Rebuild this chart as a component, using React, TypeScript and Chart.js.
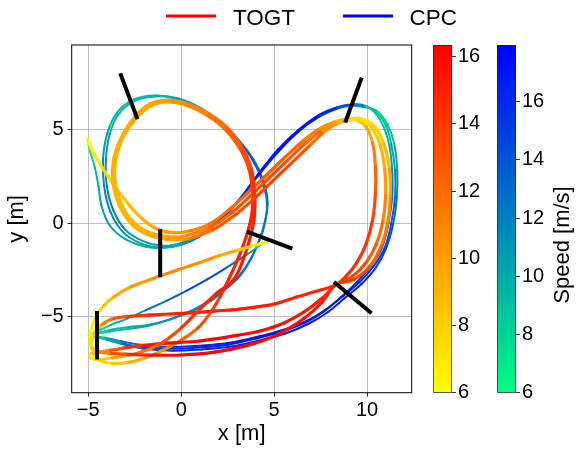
import React, { useEffect, useRef } from 'react';
import { Chart, registerables } from 'chart.js';

Chart.register(...registerables);

type P = [number, number, number]; // x [m], y [m], speed [m/s]

// ---------- axes / colour ranges ----------
const xRange = [-5.89, 12.4];
const yRange = [-9.07, 9.55];
const axisStep = 5;
const togtRange = [6, 16.35];
const cpcRange = [6, 17.95];
const barStep = 2;
const legendLabels = ['TOGT', 'CPC'];
const legendColors = ['#ff0000', '#0000ff'];
const axisTitles = ['x [m]', 'y [m]', 'Speed [m/s]'];

// ---------- gates ----------
const gate1: number[][] = [[-3.28, 8.03], [-2.35, 5.58]];
const gate2: number[][] = [[9.71, 7.8], [8.82, 5.39]];
const gate3: number[][] = [[3.53, -0.45], [5.98, -1.36]];
const gate4: number[][] = [[8.22, -3.14], [10.24, -4.82]];
const gate5: number[][] = [[-1.13, -0.32], [-1.13, -2.89]];
const gate6: number[][] = [[-4.53, -4.7], [-4.53, -7.29]];

// ---------- TOGT trajectory pieces ----------
const togtStart: P[] = [[-5.05, 4.5, 6.0], [-4.7, 3.75, 6.6], [-4.2, 2.9, 7.3], [-3.55, 1.95, 8.0], [-2.85, 1.05, 8.6], [-2.1, 0.25, 9.1], [-1.3, -0.3, 9.6], [-0.4, -0.5, 10.2]];
const togtDiag1: P[] = [[0.5, -0.4, 10.8], [1.5, -0.05, 11.5], [2.6, 0.75, 12.1], [3.6, 1.65, 12.5], [4.6, 2.6, 12.7], [5.6, 3.55, 12.6], [6.6, 4.45, 12.0], [7.5, 5.1, 11.0], [8.3, 5.45, 9.6], [8.9, 5.6, 8.3]];
const togtDiag2: P[] = [[0.3, -0.65, 10.5], [1.5, -0.25, 11.8], [2.7, 0.55, 12.8], [3.7, 1.45, 13.3], [4.7, 2.4, 13.5], [5.7, 3.35, 13.3], [6.7, 4.3, 12.5], [7.6, 5.0, 11.2], [8.4, 5.42, 9.6], [8.95, 5.55, 8.2]];
const togtDiag3: P[] = [[0.5, -0.8, 11.0], [1.7, -0.35, 12.3], [2.9, 0.45, 13.2], [3.9, 1.3, 13.6], [4.9, 2.25, 13.8], [5.9, 3.2, 13.5], [6.9, 4.15, 12.7], [7.7, 4.9, 11.4], [8.45, 5.38, 9.8], [9.0, 5.52, 8.2]];
const togtRight1: P[] = [[9.45, 5.55, 8.0], [9.95, 5.15, 9.0], [10.3, 4.3, 10.5], [10.45, 3.0, 12.0], [10.45, 1.6, 13.0], [10.3, 0.2, 13.7], [9.95, -1.1, 14.2], [9.45, -2.1, 14.5], [8.9, -2.8, 14.7], [8.3, -3.3, 14.8]];
const togtRight2: P[] = [[9.55, 5.6, 7.3], [10.2, 5.2, 7.7], [10.7, 4.2, 8.6], [10.95, 2.9, 9.6], [11.0, 1.5, 10.5], [10.85, 0.1, 11.4], [10.5, -1.1, 12.3], [9.95, -2.1, 13.1], [9.2, -2.85, 13.8], [8.3, -3.3, 14.3]];
const togtRight3: P[] = [[9.6, 5.62, 7.0], [10.35, 5.25, 7.4], [10.9, 4.25, 8.3], [11.2, 2.9, 9.3], [11.25, 1.5, 10.2], [11.1, 0.0, 11.1], [10.75, -1.25, 12.0], [10.15, -2.3, 12.9], [9.3, -3.0, 13.7], [8.3, -3.3, 14.2]];
const togtBottomUpper: P[] = [[7.4, -3.6, 14.9], [6.2, -3.95, 15.0], [5.1, -4.3, 15.1], [3.5, -4.55, 15.3], [1.8, -4.7, 15.4], [0.0, -4.82, 15.3], [-1.8, -4.92, 14.8], [-3.0, -5.0, 13.8], [-3.8, -5.15, 12.3], [-4.35, -5.5, 10.3], [-4.7, -5.95, 8.3], [-4.82, -6.5, 7.2], [-4.72, -7.0, 6.8]];
const togtBottomLower1: P[] = [[7.6, -4.0, 15.2], [6.6, -4.75, 15.6], [5.5, -5.35, 15.9], [4.3, -5.75, 16.1], [3.0, -6.0, 16.2], [1.0, -6.3, 16.2], [-0.8, -6.42, 15.9], [-2.2, -6.55, 15.2], [-3.2, -6.7, 14.0], [-3.95, -6.82, 12.0], [-4.5, -6.92, 9.6], [-4.88, -7.02, 7.2], [-4.85, -7.22, 6.6]];
const togtBottomLower2: P[] = [[7.6, -4.2, 15.4], [6.6, -5.1, 15.8], [5.2, -5.95, 16.1], [3.5, -6.55, 16.3], [1.8, -6.9, 16.3], [0.0, -7.05, 16.2], [-1.8, -7.05, 15.6], [-3.0, -7.0, 14.2], [-3.9, -6.95, 12.3], [-4.5, -6.85, 9.8], [-4.85, -6.55, 7.5], [-4.9, -6.0, 6.4], [-4.78, -5.5, 6.3]];
const togtArcB: P[] = [[-4.35, -7.35, 7.2], [-3.7, -7.5, 8.0], [-2.8, -7.45, 8.8], [-1.9, -7.2, 9.6], [-1.0, -6.8, 10.6], [0.0, -6.25, 11.8], [0.9, -5.6, 12.9], [1.6, -4.75, 13.7], [2.1, -3.9, 14.3], [2.55, -3.0, 14.8], [3.1, -1.8, 15.1], [3.55, -0.55, 15.2]];
const togtArcA: P[] = [[-4.45, -7.3, 7.4], [-3.7, -7.2, 9.0], [-2.5, -7.0, 11.0], [-1.2, -6.5, 12.8], [0.0, -5.6, 14.0], [1.0, -4.6, 14.8], [1.9, -3.75, 15.2], [2.8, -3.05, 15.4], [3.35, -1.9, 15.5], [3.75, -0.6, 15.4]];
const togtLoop1: P[] = [[3.8, 0.5, 15.0], [3.85, 1.5, 14.6], [3.65, 2.9, 13.8], [3.1, 4.1, 12.9], [2.3, 5.1, 12.0], [1.3, 5.85, 11.2], [0.2, 6.35, 10.5], [-0.7, 6.5, 10.0], [-1.6, 6.3, 9.7], [-2.4, 5.65, 9.5], [-3.05, 4.75, 9.3], [-3.5, 3.5, 9.1], [-3.55, 2.2, 9.0], [-3.2, 1.0, 8.9], [-2.6, 0.1, 8.9], [-1.8, -0.45, 9.1], [-0.8, -0.7, 9.6], [0.0, -0.72, 10.0]];
const togtLoop2: P[] = [[3.95, 0.5, 15.2], [3.95, 1.6, 14.8], [3.75, 3.0, 14.0], [3.2, 4.2, 13.0], [2.4, 5.2, 12.1], [1.35, 5.95, 11.3], [0.2, 6.45, 10.6], [-0.75, 6.6, 10.1], [-1.7, 6.38, 9.8], [-2.5, 5.7, 9.6], [-3.15, 4.75, 9.4], [-3.62, 3.5, 9.2], [-3.67, 2.2, 9.1], [-3.3, 0.9, 9.0], [-2.65, -0.05, 9.0], [-1.8, -0.6, 9.3], [-0.8, -0.85, 9.8], [0.2, -0.85, 10.4]];
const togtFinal: P[] = [[-4.55, -4.95, 6.8], [-4.2, -4.45, 7.8], [-3.64, -3.95, 8.8], [-2.7, -3.4, 9.8], [-1.5, -2.95, 10.5], [-0.2, -2.5, 10.8], [1.0, -2.1, 10.6], [2.0, -1.75, 10.0], [3.0, -1.45, 8.9], [3.8, -1.22, 7.6], [4.6, -1.0, 6.2]];

// ---------- CPC trajectory pieces ----------
const cpcStart: P[] = [[-5.05, 4.5, 6.0], [-4.9, 3.85, 7.2], [-4.65, 3.0, 8.6], [-4.45, 2.0, 9.8], [-4.3, 1.0, 10.6], [-3.85, -0.1, 10.8], [-3.0, -0.85, 10.2], [-1.9, -1.25, 9.6], [-0.8, -1.3, 9.8], [0.3, -1.05, 11.0], [1.2, -0.55, 12.8]];
const cpcDiag1: P[] = [[2.1, 0.2, 14.5], [3.1, 1.25, 15.8], [4.1, 2.55, 16.6], [5.2, 3.85, 17.2], [6.3, 4.95, 17.3], [7.4, 5.75, 16.8], [8.4, 6.2, 15.3], [9.2, 6.35, 13.0], [9.9, 6.25, 10.0]];
const cpcDiag2: P[] = [[2.2, 0.25, 14.6], [3.2, 1.35, 15.9], [4.15, 2.65, 16.7], [5.2, 3.95, 17.3], [6.3, 5.0, 17.4], [7.4, 5.8, 16.9], [8.4, 6.22, 15.4], [9.2, 6.38, 13.0], [9.9, 6.3, 10.2]];
const cpcDiag3: P[] = [[2.1, 0.15, 14.4], [3.1, 1.2, 15.7], [4.1, 2.5, 16.5], [5.2, 3.8, 17.1], [6.3, 4.9, 17.2], [7.4, 5.7, 16.7], [8.4, 6.15, 15.2], [9.2, 6.3, 12.8], [9.9, 6.22, 9.8]];
const cpcRight1: P[] = [[10.5, 5.95, 8.2], [11.0, 5.25, 8.6], [11.3, 4.25, 9.6], [11.5, 2.85, 11.0], [11.5, 1.4, 12.4], [11.3, 0.0, 13.8], [10.95, -1.3, 14.9], [10.35, -2.3, 15.6], [9.6, -3.15, 16.1], [8.7, -3.9, 16.4], [7.8, -4.6, 16.6], [6.8, -5.2, 16.7], [5.5, -5.7, 16.8], [4.2, -6.05, 16.8], [2.6, -6.4, 16.7], [1.0, -6.55, 16.3], [-0.6, -6.62, 15.6], [-2.2, -6.5, 14.0], [-3.3, -6.3, 11.8], [-4.1, -6.12, 9.5], [-4.6, -6.05, 7.6], [-4.95, -6.0, 6.2]];
const cpcRight2: P[] = [[10.45, 5.9, 8.4], [10.9, 5.15, 8.8], [11.2, 4.15, 9.8], [11.35, 2.8, 11.2], [11.35, 1.4, 12.6], [11.15, 0.0, 14.0], [10.8, -1.3, 15.0], [10.2, -2.3, 15.7], [9.45, -3.15, 16.2], [8.6, -3.95, 16.5], [7.7, -4.7, 16.7], [6.7, -5.3, 16.8], [5.4, -5.8, 16.9], [4.1, -6.15, 16.9], [2.5, -6.5, 16.8], [0.9, -6.65, 16.4], [-0.7, -6.72, 15.7], [-2.3, -6.6, 14.1], [-3.35, -6.38, 11.9], [-4.1, -6.18, 9.6], [-4.6, -6.08, 7.6], [-4.95, -6.0, 6.2]];
const cpcRight3: P[] = [[10.55, 6.0, 8.0], [11.1, 5.3, 8.4], [11.45, 4.3, 9.4], [11.62, 2.85, 10.8], [11.6, 1.4, 12.2], [11.4, -0.05, 13.6], [11.0, -1.4, 14.7], [10.45, -2.4, 15.5], [9.7, -3.25, 16.0], [8.8, -4.0, 16.3], [7.9, -4.75, 16.5], [6.9, -5.35, 16.6], [5.6, -5.9, 16.7], [4.3, -6.25, 16.7], [2.7, -6.6, 16.6], [1.1, -6.75, 16.2], [-0.5, -6.82, 15.5], [-2.1, -6.7, 13.9], [-3.25, -6.45, 11.7], [-4.05, -6.22, 9.4], [-4.55, -6.1, 7.5], [-4.95, -6.0, 6.2]];
const cpcUp1: P[] = [[-4.6, -5.9, 7.2], [-3.9, -5.72, 8.4], [-2.8, -5.55, 9.6], [-1.8, -5.45, 10.4], [-0.6, -5.15, 11.1], [0.6, -4.7, 11.6], [1.6, -4.15, 12.0], [2.6, -3.35, 12.2], [3.4, -2.45, 12.3], [4.0, -1.4, 12.3], [4.4, -0.4, 12.2]];
const cpcUp2: P[] = [[-4.6, -5.92, 7.2], [-3.9, -5.8, 8.3], [-2.8, -5.65, 9.5], [-1.8, -5.5, 10.3], [-0.5, -5.1, 11.0], [1.0, -4.45, 11.6], [2.0, -3.75, 12.0], [3.0, -3.0, 12.2], [3.7, -2.0, 12.3], [4.2, -0.9, 12.2], [4.5, 0.1, 12.1]];
const cpcLoop1: P[] = [[4.6, 0.6, 12.0], [4.55, 1.6, 12.8], [4.1, 2.9, 13.5], [3.3, 4.2, 13.8], [2.3, 5.25, 13.0], [1.1, 6.15, 11.5], [-0.2, 6.7, 10.2], [-1.4, 6.85, 9.4], [-2.5, 6.65, 9.0], [-3.4, 6.0, 9.2], [-3.95, 4.9, 10.0], [-4.2, 3.5, 11.0], [-4.15, 2.0, 11.8], [-3.8, 0.6, 11.8], [-3.1, -0.5, 11.0], [-2.1, -1.1, 10.0], [-1.0, -1.3, 9.5], [0.0, -1.15, 10.3], [1.0, -0.7, 12.0], [1.9, 0.0, 13.8]];
const cpcLoop2: P[] = [[4.65, 1.1, 12.3], [4.45, 2.2, 13.1], [3.9, 3.4, 13.6], [3.0, 4.55, 13.6], [1.9, 5.5, 12.8], [0.7, 6.25, 11.4], [-0.5, 6.72, 10.2], [-1.6, 6.78, 9.4], [-2.6, 6.5, 9.1], [-3.4, 5.8, 9.3], [-3.85, 4.75, 10.1], [-4.05, 3.4, 11.2], [-4.0, 2.0, 12.0], [-3.65, 0.7, 12.0], [-3.0, -0.35, 11.2], [-2.05, -0.95, 10.2], [-1.0, -1.2, 9.7], [0.0, -1.05, 10.5], [1.0, -0.6, 12.2], [1.9, 0.1, 14.0]];
const cpcFinal: P[] = [[-4.55, -5.8, 7.2], [-3.8, -5.45, 8.6], [-2.9, -5.1, 10.0], [-1.9, -4.65, 11.5], [-0.8, -4.15, 13.0], [0.3, -3.6, 14.2], [1.4, -3.0, 14.8], [2.4, -2.4, 14.0], [3.35, -1.8, 12.0], [4.0, -1.35, 9.5], [4.5, -1.0, 7.0]];

const togtPath: P[] = [
  ...togtStart, ...togtDiag1, ...togtRight1, ...togtBottomUpper, ...togtArcB, ...togtLoop1,
  ...togtDiag2, ...togtRight2, ...togtBottomLower1, ...togtArcA, ...togtLoop2,
  ...togtDiag3, ...togtRight3, ...togtBottomLower2, ...togtFinal,
];
const cpcPath: P[] = [
  ...cpcStart, ...cpcDiag1, ...cpcRight1, ...cpcUp1, ...cpcLoop1,
  ...cpcDiag2, ...cpcRight2, ...cpcUp2, ...cpcLoop2,
  ...cpcDiag3, ...cpcRight3, ...cpcFinal,
];
const gates = [gate1, gate2, gate3, gate4, gate5, gate6];

// ---------- helpers ----------
const FONT = '"Liberation Sans", Arial, Helvetica, sans-serif';
const clamp = (t: number) => Math.max(0, Math.min(1, t));
const autumnR = (v: number) => {
  const t = clamp((v - togtRange[0]) / (togtRange[1] - togtRange[0]));
  return `rgb(255,${Math.round(255 * (1 - t))},0)`;
};
const winterR = (v: number) => {
  const t = clamp((v - cpcRange[0]) / (cpcRange[1] - cpcRange[0]));
  return `rgb(0,${Math.round(255 * (1 - t))},${Math.round(255 * (0.5 + 0.5 * t))})`;
};
const fmt = (v: number) => (v < 0 ? '\u2212' + Math.abs(v) : String(v));

function pathDataset(pts: P[], cmap: (v: number) => string, width: number) {
  return {
    data: pts.map((p) => ({ x: p[0], y: p[1] })),
    showLine: true,
    borderWidth: width,
    borderColor: cmap(pts[0][2]),
    pointRadius: 0,
    pointHoverRadius: 0,
    tension: 0.4,
    fill: false,
    borderCapStyle: 'round',
    borderJoinStyle: 'round',
    segment: {
      borderColor: (c: any) => cmap((pts[c.p0DataIndex][2] + pts[c.p1DataIndex][2]) / 2),
    },
  };
}

const AREA = { left: 71.7, top: 45, right: 411.7, bottom: 392.7 };
const W = 581;
const H = 450;

const decorPlugin = {
  id: 'decor',
  afterDatasetsDraw(chart: any) {
    const { ctx, chartArea } = chart;
    ctx.save();
    ctx.strokeStyle = '#000';
    ctx.lineWidth = 1;
    ctx.strokeRect(chartArea.left, chartArea.top, chartArea.right - chartArea.left, chartArea.bottom - chartArea.top);
    ctx.restore();
  },
  afterDraw(chart: any) {
    const { ctx } = chart;
    const items = [
      { x: 166, tx: 233 },
      { x: 343, tx: 409.5 },
    ];
    ctx.save();
    items.forEach((it, i) => {
      ctx.strokeStyle = legendColors[i];
      ctx.lineWidth = 3;
      ctx.beginPath();
      ctx.moveTo(it.x, 16);
      ctx.lineTo(it.x + 50, 16);
      ctx.stroke();
      ctx.fillStyle = '#000';
      ctx.font = `22.5px ${FONT}`;
      ctx.textBaseline = 'alphabetic';
      ctx.textAlign = 'left';
      ctx.fillText(legendLabels[i], it.tx, 24.5);
    });
    ctx.restore();
  },
};

function makeMain(canvas: HTMLCanvasElement) {
  const tickFont = { family: FONT, size: 20 };
  const titleFont = { family: FONT, size: 22 };
  const datasets: any[] = [
    ...gates.map((g) => ({
      data: g.map((p) => ({ x: p[0], y: p[1] })),
      showLine: true,
      borderColor: '#000',
      borderWidth: 4,
      pointRadius: 0,
      pointHoverRadius: 0,
      tension: 0,
      fill: false,
    })),
    pathDataset(togtPath, autumnR, 3.2),
    pathDataset(cpcPath, winterR, 2.0),
  ];
  return new Chart(canvas, {
    type: 'scatter',
    data: { datasets },
    options: {
      animation: false,
      responsive: false,
      devicePixelRatio: 1,
      events: [],
      layout: { padding: { top: AREA.top, right: W - AREA.right, left: 0, bottom: 0 } },
      plugins: { legend: { display: false }, tooltip: { enabled: false } },
      scales: {
        x: {
          type: 'linear',
          min: xRange[0],
          max: xRange[1],
          ticks: { stepSize: axisStep, includeBounds: false, font: tickFont, color: '#000', padding: 2, maxRotation: 0, autoSkip: false, callback: (v: any) => fmt(Number(v)) },
          grid: { color: '#b0b0b0', lineWidth: 0.8, tickLength: 4, tickColor: '#000', tickWidth: 0.8, drawTicks: true },
          border: { display: false },
          title: { display: true, text: axisTitles[0], font: titleFont, color: '#000', padding: { top: 0, bottom: 3 } },
          afterFit: (s: any) => { s.height = H - AREA.bottom; },
        },
        y: {
          type: 'linear',
          min: yRange[0],
          max: yRange[1],
          ticks: { stepSize: axisStep, includeBounds: false, font: tickFont, color: '#000', padding: 4, autoSkip: false, callback: (v: any) => fmt(Number(v)) },
          grid: { color: '#b0b0b0', lineWidth: 0.8, tickLength: 4, tickColor: '#000', tickWidth: 0.8, drawTicks: true },
          border: { display: false },
          title: { display: true, text: axisTitles[1], font: titleFont, color: '#000', padding: { top: 4, bottom: 0 } },
          afterFit: (s: any) => { s.width = AREA.left; },
        },
      },
    } as any,
    plugins: [decorPlugin],
  });
}

function makeBar(canvas: HTMLCanvasElement, range: number[], stops: string[], title: string | null) {
  const barW = 19;
  const cw = canvas.width;
  const titlePlugin = {
    id: 'cbTitle',
    afterDraw(chart: any) {
      if (!title) return;
      const { ctx } = chart;
      ctx.save();
      ctx.translate(66, 220);
      ctx.rotate(-Math.PI / 2);
      ctx.font = `22px ${FONT}`;
      ctx.fillStyle = '#000';
      ctx.textAlign = 'center';
      ctx.textBaseline = 'middle';
      ctx.fillText(title, 0, 0);
      ctx.restore();
    },
  };
  return new Chart(canvas, {
    type: 'bar',
    data: {
      labels: [''],
      datasets: [
        {
          data: [[range[0], range[1]]],
          backgroundColor: (c: any) => {
            const ca = c.chart.chartArea;
            if (!ca) return stops[0];
            const g = c.chart.ctx.createLinearGradient(0, ca.bottom, 0, ca.top);
            g.addColorStop(0, stops[0]);
            g.addColorStop(1, stops[1]);
            return g;
          },
          borderColor: '#222',
          borderWidth: 1,
          borderSkipped: false,
          barPercentage: 1,
          categoryPercentage: 1,
        },
      ],
    },
    options: {
      animation: false,
      responsive: false,
      devicePixelRatio: 1,
      events: [],
      layout: { padding: { top: 20, bottom: 20.3, left: 0, right: 0 } },
      plugins: { legend: { display: false }, tooltip: { enabled: false } },
      scales: {
        x: { display: false },
        y: {
          position: 'right',
          min: range[0],
          max: range[1],
          ticks: { stepSize: barStep, includeBounds: false, font: { family: FONT, size: 20 }, color: '#000', padding: 2 },
          grid: { drawOnChartArea: false, drawTicks: true, tickLength: 4, tickColor: '#000', tickWidth: 0.8 },
          border: { display: false },
          afterFit: (s: any) => { s.width = cw - barW; },
        },
      },
    } as any,
    plugins: [titlePlugin],
  });
}

export default function App() {
  const mainRef = useRef<HTMLCanvasElement>(null);
  const cb1Ref = useRef<HTMLCanvasElement>(null);
  const cb2Ref = useRef<HTMLCanvasElement>(null);

  useEffect(() => {
    const charts: Chart[] = [];
    if (mainRef.current) charts.push(makeMain(mainRef.current));
    if (cb1Ref.current) charts.push(makeBar(cb1Ref.current, togtRange, ['#ffff00', '#ff0000'], null));
    if (cb2Ref.current) charts.push(makeBar(cb2Ref.current, cpcRange, ['#00ff80', '#0000ff'], axisTitles[2]));
    return () => charts.forEach((c) => c.destroy());
  }, []);

  return (
    <div style={{ position: 'absolute', left: 0, top: 0, width: W, height: H, background: '#fff', overflow: 'hidden' }}>
      <canvas ref={mainRef} width={W} height={H} style={{ position: 'absolute', left: 0, top: 0 }} />
      <canvas ref={cb1Ref} width={60} height={388} style={{ position: 'absolute', left: 433, top: 25 }} />
      <canvas ref={cb2Ref} width={84} height={388} style={{ position: 'absolute', left: 497, top: 25 }} />
    </div>
  );
}
